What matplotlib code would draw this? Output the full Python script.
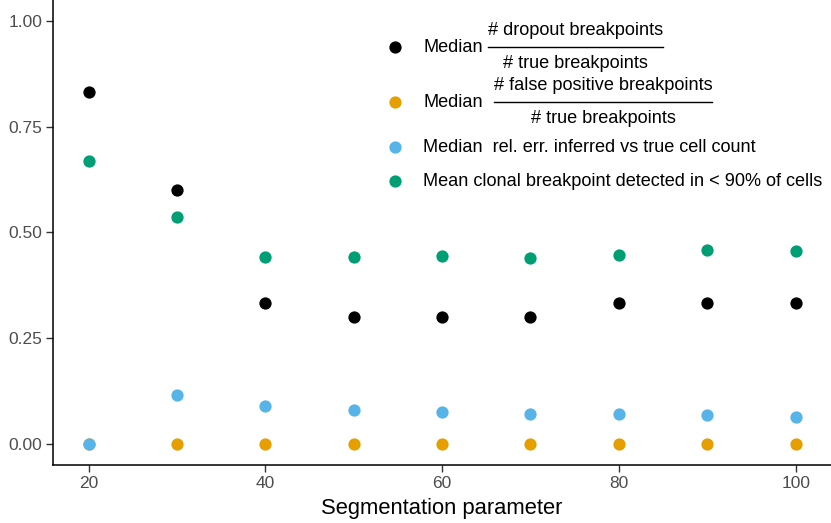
import matplotlib
matplotlib.use("Agg")
import matplotlib.pyplot as plt
from matplotlib.lines import Line2D

plt.rcParams["font.family"] = ["Liberation Sans", "DejaVu Sans"]

seg_param = [20, 30, 40, 50, 60, 70, 80, 90, 100]
dropout_ratio = [0.833, 0.600, 0.333, 0.300, 0.300, 0.300, 0.333, 0.333, 0.333]
false_pos_ratio = [0.0, 0.0, 0.0, 0.0, 0.0, 0.0, 0.0, 0.0, 0.0]
cell_count_err = [0.0, 0.116, 0.090, 0.080, 0.076, 0.071, 0.071, 0.069, 0.064]
clonal_missed = [0.669, 0.537, 0.441, 0.442, 0.444, 0.440, 0.447, 0.459, 0.456]

colors = ["#000000", "#E69F00", "#56B4E9", "#009E73"]
series = [dropout_ratio, false_pos_ratio, cell_count_err, clonal_missed]

# legend entries: (prefix, numerator, denominator); plain entries have no fraction
legend_entries = [
    ("Median", "# dropout breakpoints", "# true breakpoints"),
    ("Median", "# false positive breakpoints", "# true breakpoints"),
    ("Median  rel. err. inferred vs true cell count", None, None),
    ("Mean clonal breakpoint detected in < 90% of cells", None, None),
]

fig = plt.figure(figsize=(8.31, 5.23), dpi=100)
ax = fig.add_axes([0.064, 0.111, 0.936, 0.889])

for vals, col in zip(series, colors):
    ax.scatter(seg_param, vals, s=78, color=col, linewidths=0, zorder=3)

ax.set_xlim(16, 104)
ax.set_ylim(-0.05, 1.05)
ax.set_xticks([20, 40, 60, 80, 100])
ax.set_yticks([0, 0.25, 0.5, 0.75, 1.0])
ax.set_yticklabels(["0.00", "0.25", "0.50", "0.75", "1.00"])
ax.tick_params(axis="both", length=5, width=1, color="#333333",
               labelsize=12.5, labelcolor="#4D4D4D", pad=3)
for side in ["top", "right"]:
    ax.spines[side].set_visible(False)
for side in ["left", "bottom"]:
    ax.spines[side].set_linewidth(1.1)
    ax.spines[side].set_color("black")
ax.set_xlabel("Segmentation parameter", fontsize=15.8, labelpad=5)

# hand-built legend with stacked fractions
fig.canvas.draw()
renderer = fig.canvas.get_renderer()
bb = ax.get_window_extent(renderer)
px_x = 1.0 / bb.width
px_y = 1.0 / bb.height

fs = 13.1
key_x = 0.4396
text_x = 0.4756
row_y = [0.898, 0.781, 0.684, 0.610]
frac_gap_px = [5, 11]

for i, ((prefix, num, den), col, ky) in enumerate(zip(legend_entries, colors, row_y)):
    ax.scatter([key_x], [ky], s=78, color=col, linewidths=0,
               transform=ax.transAxes, clip_on=False, zorder=4)
    t = ax.text(text_x, ky - 4.8 * px_y, prefix, transform=ax.transAxes,
                ha="left", va="baseline", fontsize=fs, color="black")
    if num is None:
        continue
    ext = t.get_window_extent(renderer)
    x0 = (ext.x1 - bb.x0) * px_x + frac_gap_px[i] * px_x
    tn = ax.text(0, 0, num, transform=ax.transAxes, ha="center",
                 va="baseline", fontsize=fs, color="black")
    td = ax.text(0, 0, den, transform=ax.transAxes, ha="center",
                 va="baseline", fontsize=fs, color="black")
    w = max(tn.get_window_extent(renderer).width,
            td.get_window_extent(renderer).width) * px_x
    cx = x0 + w / 2
    tn.set_position((cx, ky + 12.3 * px_y))
    td.set_position((cx, ky - 21.0 * px_y))
    ax.add_line(Line2D([x0, x0 + w], [ky, ky], transform=ax.transAxes,
                       color="black", linewidth=1.0, clip_on=False))

fig.savefig("out.png", dpi=100)
